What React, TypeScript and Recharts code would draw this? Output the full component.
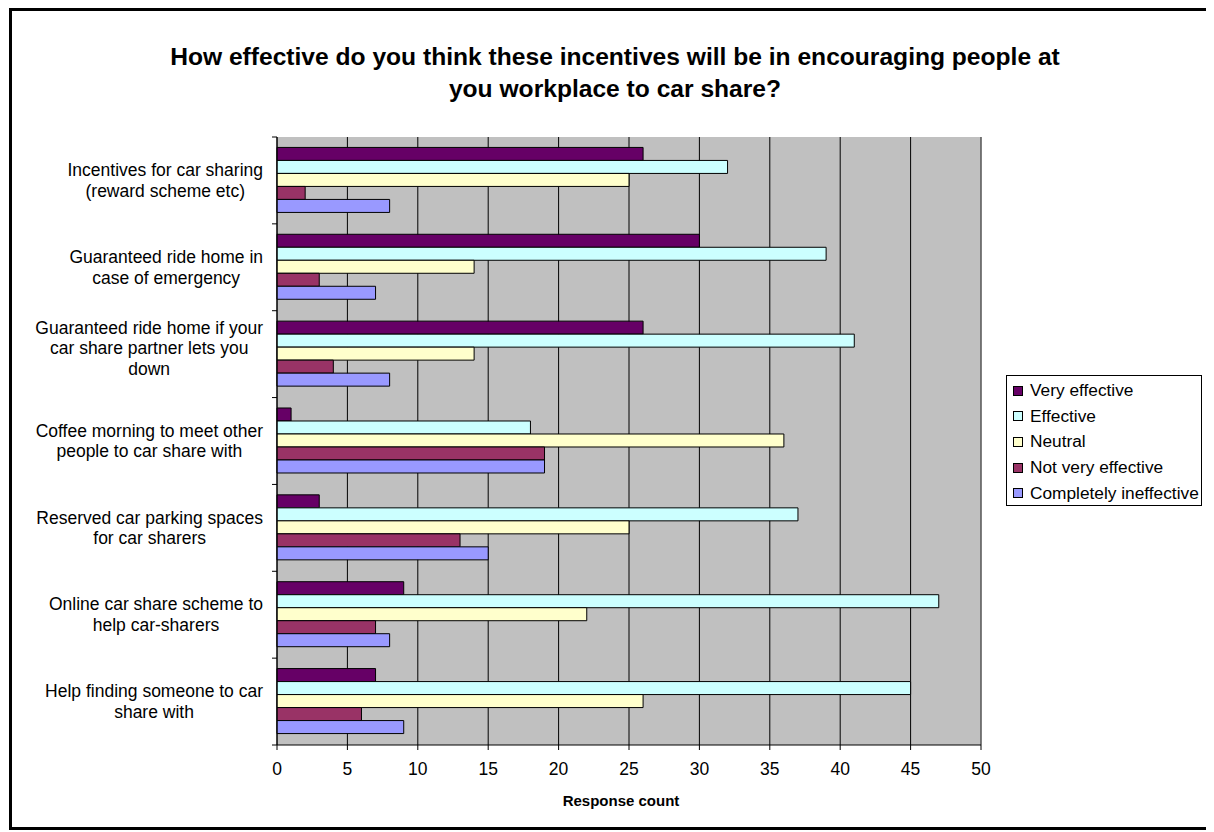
import { Bar, BarChart, CartesianGrid, Legend, ReferenceLine, XAxis, YAxis } from "recharts";

const categories = [
  "Incentives for car sharing\n(reward scheme etc)",
  "Guaranteed ride home in\ncase of emergency",
  "Guaranteed ride home if your\ncar share partner lets you\ndown",
  "Coffee morning to meet other\npeople to car share with",
  "Reserved car parking spaces\nfor car sharers",
  "Online car share scheme to\nhelp car-sharers",
  "Help finding someone to car\nshare with",
];
const veryEffective = [26, 30, 26, 1, 3, 9, 7];
const effective = [32, 39, 41, 18, 37, 47, 45];
const neutral = [25, 14, 14, 36, 25, 22, 26];
const notVeryEffective = [2, 3, 4, 19, 13, 7, 6];
const completelyIneffective = [8, 7, 8, 19, 15, 8, 9];
const xTicks = [0, 5, 10, 15, 20, 25, 30, 35, 40, 45, 50];

const series = [
  { key: "veryEffective", name: "Very effective", color: "#660066" },
  { key: "effective", name: "Effective", color: "#CCFFFF" },
  { key: "neutral", name: "Neutral", color: "#FFFFCC" },
  { key: "notVeryEffective", name: "Not very effective", color: "#993366" },
  { key: "completelyIneffective", name: "Completely ineffective", color: "#9999FF" },
];

const data = categories.map((label, i) => ({
  label,
  veryEffective: veryEffective[i],
  effective: effective[i],
  neutral: neutral[i],
  notVeryEffective: notVeryEffective[i],
  completelyIneffective: completelyIneffective[i],
}));

const font = '"Liberation Sans", Arial, sans-serif';
const W = 1206;
const H = 824;
const AXIS_X = 269;
const LABEL_RIGHT = 255;
const LINE_H = 20.5;
const FS = 17.5;

let ctx: CanvasRenderingContext2D | null = null;
function textWidth(s: string) {
  if (!ctx) ctx = document.createElement("canvas").getContext("2d");
  if (!ctx) return s.length * 8.5;
  ctx.font = `${FS}px ${font}`;
  return ctx.measureText(s).width;
}

function CategoryTick(props: any) {
  const { y, payload, index } = props;
  const lines = String(payload.value).split("\n");
  const half = payload.offset ?? 608 / 14;
  // lines are centred on the widest one, which sits against the axis
  const maxW = Math.max(...lines.map(textWidth));
  const cx = LABEL_RIGHT - maxW / 2;
  const first = y - ((lines.length - 1) * LINE_H) / 2 + 6 - (lines.length - 2) * 6;
  return (
    <g>
      <line x1={AXIS_X - 5} x2={AXIS_X} y1={y - half} y2={y - half} stroke="#000" />
      {index === categories.length - 1 && (
        <line x1={AXIS_X - 5} x2={AXIS_X} y1={y + half} y2={y + half} stroke="#000" />
      )}
      <text x={cx} y={first} textAnchor="middle" fontSize={FS} fill="#000" fontFamily={font}>
        {lines.map((l, i) => (
          <tspan key={i} x={cx} dy={i === 0 ? 0 : LINE_H}>
            {l}
          </tspan>
        ))}
      </text>
    </g>
  );
}

function LegendBox() {
  return (
    <div
      style={{
        border: "1px solid #000",
        background: "#fff",
        width: 196,
        height: 131,
        boxSizing: "border-box",
        padding: "2px 0 0 6px",
        fontFamily: font,
        fontSize: 17.3,
        color: "#000",
      }}
    >
      {series.map((s) => (
        <div key={s.key} style={{ display: "flex", alignItems: "center", height: 25.6, whiteSpace: "nowrap" }}>
          <span
            style={{
              display: "inline-block",
              width: 8,
              height: 8,
              border: "1px solid #000",
              background: s.color,
              marginRight: 7,
            }}
          />
          {s.name}
        </div>
      ))}
    </div>
  );
}

export default function App() {
  return (
    <div style={{ position: "relative", width: W, height: H, fontFamily: font }}>
      <div
        style={{
          position: "absolute",
          left: 1,
          top: 0,
          width: 1203,
          height: 822,
          border: "3px solid #000",
          boxSizing: "border-box",
          pointerEvents: "none",
        }}
      />
      <div
        style={{
          position: "absolute",
          left: 7,
          top: 33,
          width: 1200,
          textAlign: "center",
          fontWeight: "bold",
          fontSize: 24.6,
          lineHeight: "32px",
          color: "#000",
        }}
      >
        How effective do you think these incentives will be in encouraging people at
        <br />
        you workplace to car share?
      </div>
      <BarChart
        width={W}
        height={H}
        data={data}
        layout="vertical"
        margin={{ top: 129, right: 233, bottom: 23, left: 0 }}
        barCategoryGap="12%"
        barGap={0}
        style={{ position: "absolute", left: 0, top: 0 }}
      >
        <CartesianGrid fill="#C0C0C0" stroke="#000" horizontal={false} fillOpacity={1} />
        <XAxis
          type="number"
          domain={[0, 50]}
          ticks={xTicks}
          interval={0}
          height={64}
          tickSize={5}
          tickMargin={13}
          axisLine={{ stroke: "#000" }}
          tickLine={{ stroke: "#000" }}
          tick={{ fill: "#000", fontSize: FS, fontFamily: font }}
          label={{
            value: "Response count",
            position: "insideBottom",
            offset: 3,
            dx: -8,
            style: { fontWeight: "bold", fontSize: 15, fill: "#000", fontFamily: font },
          }}
        />
        <XAxis
          xAxisId="top"
          orientation="top"
          type="number"
          domain={[0, 50]}
          height={0}
          tick={false}
          tickLine={false}
          axisLine={{ stroke: "#808080" }}
        />
        <YAxis
          type="category"
          dataKey="label"
          width={AXIS_X}
          interval={0}
          tickLine={false}
          axisLine={{ stroke: "#000" }}
          tick={<CategoryTick />}
        />
        <ReferenceLine x={50} stroke="#808080" />
        <Legend
          layout="vertical"
          align="center"
          verticalAlign="middle"
          content={<LegendBox />}
          wrapperStyle={{ position: "absolute", left: 998, top: 367, width: 196 }}
        />
        {series.map((s) => (
          <Bar
            key={s.key}
            dataKey={s.key}
            name={s.name}
            fill={s.color}
            stroke="#000"
            strokeWidth={1}
            isAnimationActive={false}
          />
        ))}
      </BarChart>
    </div>
  );
}
